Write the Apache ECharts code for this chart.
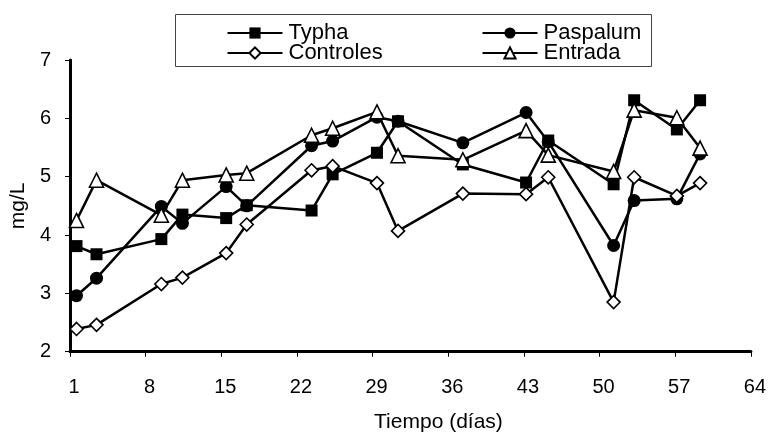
<!DOCTYPE html>
<html>
<head>
<meta charset="utf-8">
<script src="https://cdn.jsdelivr.net/npm/echarts@6/dist/echarts.min.js"></script>
<style>html,body{margin:0;padding:0;background:#fff}#c{width:769px;height:439px}</style>
</head>
<body>
<div id="c"></div>
<script>
var days = [1.6, 3.45, 9.45, 11.4, 15.45, 17.35, 23.35, 25.3, 29.4, 31.35, 37.35, 43.2, 45.25, 51.3, 53.2, 57.15, 59.3];
var typha = [3.81, 3.67, 3.93, 4.35, 4.29, 4.51, 4.42, 5.04, 5.41, 5.95, 5.21, 4.90, 5.62, 4.87, 6.31, 5.81, 6.31];
var paspalum = [2.96, 3.26, 4.49, 4.20, 4.83, 4.50, 5.53, 5.61, 6.02, 5.95, 5.58, 6.10, 5.60, 3.82, 4.59, 4.62, 5.39];
var controles = [2.39, 2.46, 3.16, 3.27, 3.69, 4.18, 5.11, 5.18, 4.89, 4.07, 4.71, 4.70, 4.99, 2.85, 4.99, 4.67, 4.89];
var entrada = [4.25, 4.94, 4.34, 4.94, 5.03, 5.06, 5.71, 5.83, 6.11, 5.36, 5.29, 5.79, 5.37, 5.09, 6.14, 6.01, 5.49];
var xTicks = [1, 8, 15, 22, 29, 36, 43, 50, 57, 64];
var yTicks = [2, 3, 4, 5, 6, 7];

function pairs(vals) { return days.map(function (d, i) { return [d, vals[i]]; }); }
var FONT = '"Liberation Sans", Arial, sans-serif';

function mkSeries(name, vals, symbol, size, fill) {
  return {
    name: name, type: 'line', data: pairs(vals),
    symbol: symbol, symbolSize: size, showAllSymbol: true,
    lineStyle: { color: '#000', width: 2.5 },
    itemStyle: { color: fill, borderColor: '#000', borderWidth: fill === '#fff' ? 1.6 : 0 },
    emphasis: { disabled: true }, animation: false
  };
}
function mkLegend(name, left, top) {
  return {
    data: [name], left: left, top: top, padding: 0, itemWidth: 55, itemHeight: 14,
    selectedMode: false,
    textStyle: { fontFamily: FONT, fontSize: 22, color: '#000', lineHeight: 20, padding: [0, 0, 0, 1] }
  };
}
var chart = echarts.init(document.getElementById('c'), null, { renderer: 'canvas' });
chart.setOption({
  backgroundColor: '#fff',
  animation: false,
  graphic: [{ type: 'rect', z: 0, shape: { x: 175.5, y: 14.5, width: 476, height: 52 }, style: { fill: '#fff', stroke: '#444', lineWidth: 1 } }],
  legend: [
    mkLegend('Typha', 226.5, 22),
    mkLegend('Paspalum', 481.5, 22),
    mkLegend('Controles', 226.5, 42),
    mkLegend('Entrada', 481.5, 42)
  ],
  grid: { left: 68.5, right: 15, top: 60, bottom: 87.3, containLabel: false },
  xAxis: {
    type: 'value', min: 1, max: 64, interval: 7,
    name: 'Tiempo (días)', nameLocation: 'middle', nameGap: 60,
    nameTextStyle: { fontFamily: FONT, fontSize: 21, color: '#000', padding: [0, 0, 0, 56] },
    axisLine: { show: true, onZero: false, lineStyle: { color: '#000', width: 3 } },
    axisTick: { show: true, length: 5, lineStyle: { color: '#000', width: 1 } },
    axisLabel: { fontFamily: FONT, fontSize: 20, color: '#000', margin: 26, padding: [0, 0, 0, 8],
      formatter: function (v) { return xTicks.indexOf(v) >= 0 ? String(v) : ''; } },
    splitLine: { show: false }
  },
  yAxis: {
    type: 'value', min: 2, max: 7, interval: 1,
    name: 'mg/L', nameLocation: 'middle', nameGap: 40, nameRotate: 90,
    nameTextStyle: { fontFamily: FONT, fontSize: 21, color: '#000' },
    axisLine: { show: true, lineStyle: { color: '#000', width: 3 } },
    axisTick: { show: true, length: 5, lineStyle: { color: '#000', width: 1 } },
    axisLabel: { fontFamily: FONT, fontSize: 20, color: '#000', margin: 19,
      formatter: function (v) { return yTicks.indexOf(v) >= 0 ? String(v) : ''; } },
    splitLine: { show: false }
  },
  series: [
    mkSeries('Paspalum', paspalum, 'circle', 13, '#000'),
    mkSeries('Typha', typha, 'rect', 12, '#000'),
    mkSeries('Controles', controles, 'diamond', 13, '#fff'),
    mkSeries('Entrada', entrada, 'triangle', 14, '#fff')
  ]
});
</script>
</body>
</html>
